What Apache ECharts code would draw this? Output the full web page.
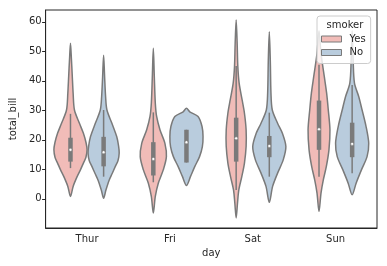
<!DOCTYPE html>
<html><head><meta charset="utf-8">
<script src="https://cdn.jsdelivr.net/npm/echarts@6/dist/echarts.min.js"></script>
<style>html,body{margin:0;padding:0;background:#fff}#c{width:387px;height:266px}</style>
</head><body><div id="c"></div>
<script>
const days = ['Thur', 'Fri', 'Sat', 'Sun'];
const smokerLevels = ['Yes', 'No'];
const yTicks = [0, 10, 20, 30, 40, 50, 60];

// Violin outlines: total_bill values (top to bottom) and relative half-widths (1 = widest)
const thurYesVal = [52.7, 47, 41.4, 35.8, 30.1, 25.6, 22.2, 19, 16.6, 14, 12.1, 9.8, 7.5, 4.2, 0.8];
const thurYesDen = [0, .06, .11, .16, .24, .54, .78, .94, 1.0, .93, .78, .6, .4, .16, 0];
const thurNoVal  = [48.7, 41.4, 34.6, 30.1, 25.6, 21.1, 18, 15.5, 13, 10.9, 8.5, 6.4, 3.0, 0.2];
const thurNoDen  = [0, .06, .12, .2, .5, .79, .9, .94, .87, .7, .51, .34, .14, 0];
const friYesVal  = [51, 41.4, 32.4, 27.9, 23.4, 18.8, 14.3, 9.8, 5.3, 0.8, -4.8];
const friYesDen  = [0, .06, .12, .2, .4, .7, .79, .6, .3, .12, 0];
const friNoVal   = [30.7, 29.5, 27.9, 24.5, 21.1, 17.7, 14.3, 10.9, 7.5, 4.5];
const friNoDen   = [0, .2, .7, .94, 1.0, .96, .79, .5, .24, 0];
const satYesVal  = [60.6, 52.7, 44.8, 39.2, 33.5, 29.0, 23.4, 17.7, 12.1, 7.5, 3.0, -1.5, -6.5];
const satYesDen  = [0, .06, .1, .18, .36, .5, .6, .6, .5, .34, .16, .08, 0];
const satNoVal   = [56.6, 47, 35.8, 30.1, 25.6, 22.2, 17.7, 13.2, 8.7, 4.2, -1.2];
const satNoDen   = [0, .06, .1, .18, .5, .79, 1.0, .84, .5, .2, 0];
const sunYesVal  = [57, 49.3, 41.4, 35.8, 30.1, 23.4, 16.6, 10.9, 6.4, 1.9, -4.3];
const sunYesDen  = [0, .12, .32, .46, .56, .66, .6, .44, .26, .12, 0];
const sunNoVal   = [57, 47, 39.2, 34.6, 30.1, 24.5, 18.8, 14.3, 9.8, 5.3, 1.35];
const sunNoDen   = [0, .06, .14, .4, .6, .84, 1.0, .9, .56, .24, 0];

// Inner box: [lower whisker, Q1, median, Q3, upper whisker]
const yesBox = [[10.4, 12.6, 16.6, 20.7, 28.8], [5.6, 7.9, 13.5, 19.2, 29.3], [3.0, 12.6, 20.5, 27.5, 45.0], [7.5, 16.6, 23.6, 33.3, 45.4]];
const noBox  = [[7.5, 11.0, 15.8, 21.0, 30.1], [12.3, 12.3, 19.2, 23.4, 23.4], [7.5, 14.1, 17.9, 21.3, 29.2], [8.7, 14.1, 18.6, 25.8, 38.6]];

const profVals = [[thurYesVal, friYesVal, satYesVal, sunYesVal], [thurNoVal, friNoVal, satNoVal, sunNoVal]];
const profDens = [[thurYesDen, friYesDen, satYesDen, sunYesDen], [thurNoDen, friNoDen, satNoDen, sunNoDen]];
const boxes = [yesBox, noBox];
const fills = ['#f1bcb8', '#b9ccdd'];
const gray = '#7a7a7a';
const FONT = 'DejaVu Sans';

function makeRender(hue) {
  return function (params, api) {
    const i = api.value(0);
    const band = api.size([1, 0])[0];
    const cx = api.coord([i, 0])[0] + (hue === 0 ? -0.2 : 0.2) * band;
    const half = 0.2 * band;
    const vals = profVals[hue][i], dens = profDens[hue][i];
    const right = [], left = [];
    for (let k = 0; k < vals.length; k++) {
      const y = api.coord([i, vals[k]])[1];
      right.push([cx + dens[k] * half, y]);
      left.push([cx - dens[k] * half, y]);
    }
    const pts = right.concat(left.slice(1, -1).reverse());
    const yy = j => api.coord([i, api.value(j)])[1];
    return {
      type: 'group',
      children: [
        { type: 'polygon', shape: { points: pts, smooth: 0.3 }, style: { fill: fills[hue], stroke: gray, lineWidth: 1.5 } },
        { type: 'line', shape: { x1: cx, y1: yy(1), x2: cx, y2: yy(5) }, style: { stroke: gray, lineWidth: 1.5 } },
        { type: 'line', shape: { x1: cx, y1: yy(2), x2: cx, y2: yy(4) }, style: { stroke: gray, lineWidth: 4.5, lineCap: 'butt' } },
        { type: 'circle', shape: { cx: cx, cy: yy(3), r: 1.5 }, style: { fill: '#fff', stroke: gray, lineWidth: 0.5 } }
      ]
    };
  };
}

const chart = echarts.init(document.getElementById('c'), null, { renderer: 'canvas' });
chart.setOption({
  animation: false,
  backgroundColor: '#fff',
  grid: { left: 42, right: 10, top: 10, bottom: 38, show: true, borderColor: '#262626', borderWidth: 1, containLabel: false },
  xAxis: {
    type: 'category', data: days, boundaryGap: true,
    name: 'day', nameLocation: 'middle', nameGap: 18,
    nameTextStyle: { fontFamily: FONT, fontSize: 10, color: '#262626' },
    axisLine: { onZero: false, lineStyle: { color: '#262626', width: 1 } },
    axisTick: { alignWithLabel: true, length: 3.5, lineStyle: { color: '#262626' } },
    axisLabel: { fontFamily: FONT, fontSize: 10, color: '#262626', margin: 6 },
    splitLine: { show: false }
  },
  yAxis: {
    type: 'value', min: -9.9, max: 64,
    name: 'total_bill', nameLocation: 'middle', nameGap: 24, nameRotate: 90,
    nameTextStyle: { fontFamily: FONT, fontSize: 10, color: '#262626' },
    axisLine: { show: true, onZero: false, lineStyle: { color: '#262626', width: 1 } },
    axisTick: { show: true, length: 3.5, customValues: yTicks, lineStyle: { color: '#262626' } },
    axisLabel: { fontFamily: FONT, fontSize: 10, color: '#262626', margin: 4, customValues: yTicks },
    splitLine: { show: false }
  },
  legend: {
    orient: 'vertical', left: 317, top: 16,
    padding: [17, 5, 5, 4],
    backgroundColor: 'rgba(255,255,255,0.8)', borderColor: '#cccccc', borderWidth: 1, borderRadius: 3,
    icon: 'rect', itemWidth: 20, itemHeight: 6, itemGap: 1.5,
    textStyle: { fontFamily: FONT, fontSize: 10, color: '#262626', lineHeight: 12, padding: [0, 0, 0, 3] },
    itemStyle: { borderColor: gray, borderWidth: 1 },
    data: smokerLevels,
    selectedMode: false
  },
  graphic: [{
    type: 'text', z: 100,
    style: { text: 'smoker', x: 345, y: 25.5, textAlign: 'center', textVerticalAlign: 'middle', font: '10px "DejaVu Sans"', fill: '#262626' }
  }],
  series: smokerLevels.map((s, h) => ({
    name: s, type: 'custom',
    itemStyle: { color: fills[h] },
    encode: { x: 0, y: [1, 2, 3, 4, 5] },
    renderItem: makeRender(h),
    data: days.map((d, i) => [i].concat(boxes[h][i]))
  }))
});
</script></body></html>
